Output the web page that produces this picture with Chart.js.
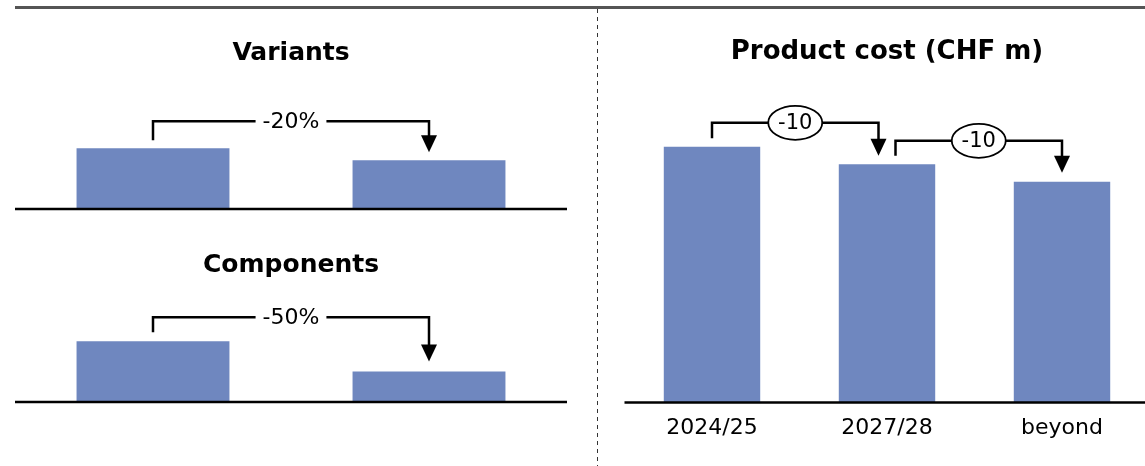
<!DOCTYPE html>
<html>
<head>
<meta charset="utf-8">
<script src="https://cdn.jsdelivr.net/npm/chart.js@4"></script>
<style>
  html, body { margin: 0; padding: 0; background: #fff; overflow: hidden; }
  #wrap { position: relative; width: 1145px; height: 466px; overflow: hidden; }
  #topLine { position: absolute; left: 15px; right: 0; top: 6px; height: 3px; background: #555; }
  #divider { position: absolute; left: 597px; top: 9px; bottom: 0; width: 1px;
    background: repeating-linear-gradient(to bottom, #333 0 4px, transparent 4px 8px); }
  canvas { position: absolute; }
</style>
</head>
<body>
<div id="wrap">
  <div id="topLine"></div>
  <div id="divider"></div>
  <canvas id="variants" width="598" height="212" style="left:0;top:0"></canvas>
  <canvas id="components" width="598" height="240" style="left:0;top:212px"></canvas>
  <canvas id="cost" width="555" height="466" style="left:598px;top:0"></canvas>
</div>
<script>
const variantLabels = ['today', 'target'];
const variantValues = [100, 80];
const variantChange = ['-20%'];

const componentLabels = ['today', 'target'];
const componentValues = [100, 50];
const componentChange = ['-50%'];

const costLabels = ['2024/25', '2027/28', 'beyond'];
const costValues = [146, 136, 126];
const costChange = ['-10', '-10'];

const barColour = '#6F87BF';
const font = 'DejaVu Sans';

// draws the baseline plus the step brackets with arrow and label
const bracketPlugin = {
    id: 'brackets',
    afterDatasetsDraw(chart, args, opts) {
        const ctx = chart.ctx;
        const xs = chart.scales.x;
        const ys = chart.scales.y;
        const values = chart.data.datasets[0].data;
        const y0 = ys.getPixelForValue(0);

        ctx.save();
        ctx.strokeStyle = '#000';
        ctx.fillStyle = '#000';
        ctx.lineWidth = 2.5;
        ctx.beginPath();
        ctx.moveTo(chart.chartArea.left, y0);
        ctx.lineTo(opts.lineToEdge ? chart.width : chart.chartArea.right, y0);
        ctx.stroke();

        (opts.items || []).forEach(b => {
            const x1 = xs.getPixelForValue(b.from) + (b.dxFrom || 0);
            const x2 = xs.getPixelForValue(b.to) + (b.dxTo || 0);
            const fromTop = ys.getPixelForValue(values[b.from]);
            const y1 = fromTop - b.gapFrom;
            const top = fromTop - b.rise;
            const tip = ys.getPixelForValue(values[b.to]) - b.gapTo;

            ctx.lineWidth = 2.5;
            ctx.beginPath();
            ctx.moveTo(x1, y1);
            ctx.lineTo(x1, top);
            ctx.lineTo(x2, top);
            ctx.lineTo(x2, tip - 14);
            ctx.stroke();

            ctx.beginPath();
            ctx.moveTo(x2 - 8, tip - 17);
            ctx.lineTo(x2 + 8, tip - 17);
            ctx.lineTo(x2, tip);
            ctx.closePath();
            ctx.fill();

            const cx = (x1 + x2) / 2;
            ctx.font = (b.ellipse ? 21 : 22) + 'px "' + font + '"';
            ctx.textAlign = 'center';
            ctx.textBaseline = 'middle';
            const w = ctx.measureText(b.label).width;
            ctx.fillStyle = '#fff';
            if (b.ellipse) {
                ctx.beginPath();
                ctx.ellipse(cx, top, 27, 17, 0, 0, Math.PI * 2);
                ctx.fill();
                ctx.lineWidth = 1.8;
                ctx.stroke();
            } else {
                ctx.fillRect(cx - w / 2 - 7, top - 12, w + 14, 24);
            }
            ctx.fillStyle = '#000';
            ctx.fillText(b.label, cx, top + 1);
        });
        ctx.restore();
    }
};

function smallChart(target, labels, values, title, change, pad, titlePad, bracket) {
    return new Chart(target, {
        type: 'bar',
        data: {
            labels: labels,
            datasets: [{
                data: values,
                backgroundColor: barColour,
                categoryPercentage: 0.554,
                barPercentage: 1
            }]
        },
        options: {
            responsive: false,
            animation: false,
            layout: { padding: pad },
            scales: {
                x: { display: false },
                y: { display: false, min: 0, max: 166 }
            },
            plugins: {
                legend: { display: false },
                tooltip: { enabled: false },
                title: {
                    display: true,
                    text: title,
                    color: '#000',
                    font: { family: font, size: 25, weight: 'bold' },
                    padding: titlePad
                },
                brackets: {
                    items: [Object.assign({ from: 0, to: 1, label: change[0] }, bracket)]
                }
            }
        },
        plugins: [bracketPlugin]
    });
}

smallChart(document.getElementById('variants'), variantLabels, variantValues, 'Variants', variantChange,
    { left: 15, right: 31, top: 0, bottom: 3 }, { top: 38, bottom: 40 },
    { gapFrom: 8, gapTo: 8, rise: 27 });

smallChart(document.getElementById('components'), componentLabels, componentValues, 'Components', componentChange,
    { left: 15, right: 31, top: 0, bottom: 50 }, { top: 38, bottom: 21 },
    { gapFrom: 9, gapTo: 10, rise: 24 });

new Chart(document.getElementById('cost'), {
    type: 'bar',
    data: {
        labels: costLabels,
        datasets: [{
            data: costValues,
            backgroundColor: barColour,
            categoryPercentage: 0.551,
            barPercentage: 1
        }]
    },
    options: {
        responsive: false,
        animation: false,
        layout: { padding: { left: 26.5, right: 3.5, top: 0, bottom: 21 } },
        scales: {
            x: {
                grid: { display: false },
                border: { display: false },
                ticks: { color: '#000', padding: 4, font: { family: font, size: 22 } }
            },
            y: { display: false, min: 0, max: 180 }
        },
        plugins: {
            legend: { display: false },
            tooltip: { enabled: false },
            title: {
                display: true,
                text: 'Product cost (CHF m)',
                color: '#000',
                font: { family: font, size: 26, weight: 'bold' },
                padding: { top: 37, bottom: 19 }
            },
            brackets: {
                lineToEdge: true,
                items: [
                    { from: 0, to: 1, dxTo: -8.5, label: costChange[0], gapFrom: 8.5, gapTo: 8.5, rise: 24, ellipse: true },
                    { from: 1, to: 2, dxFrom: 8.5, label: costChange[1], gapFrom: 8.5, gapTo: 9, rise: 23.5, ellipse: true }
                ]
            }
        }
    },
    plugins: [bracketPlugin]
});
</script>
</body>
</html>
